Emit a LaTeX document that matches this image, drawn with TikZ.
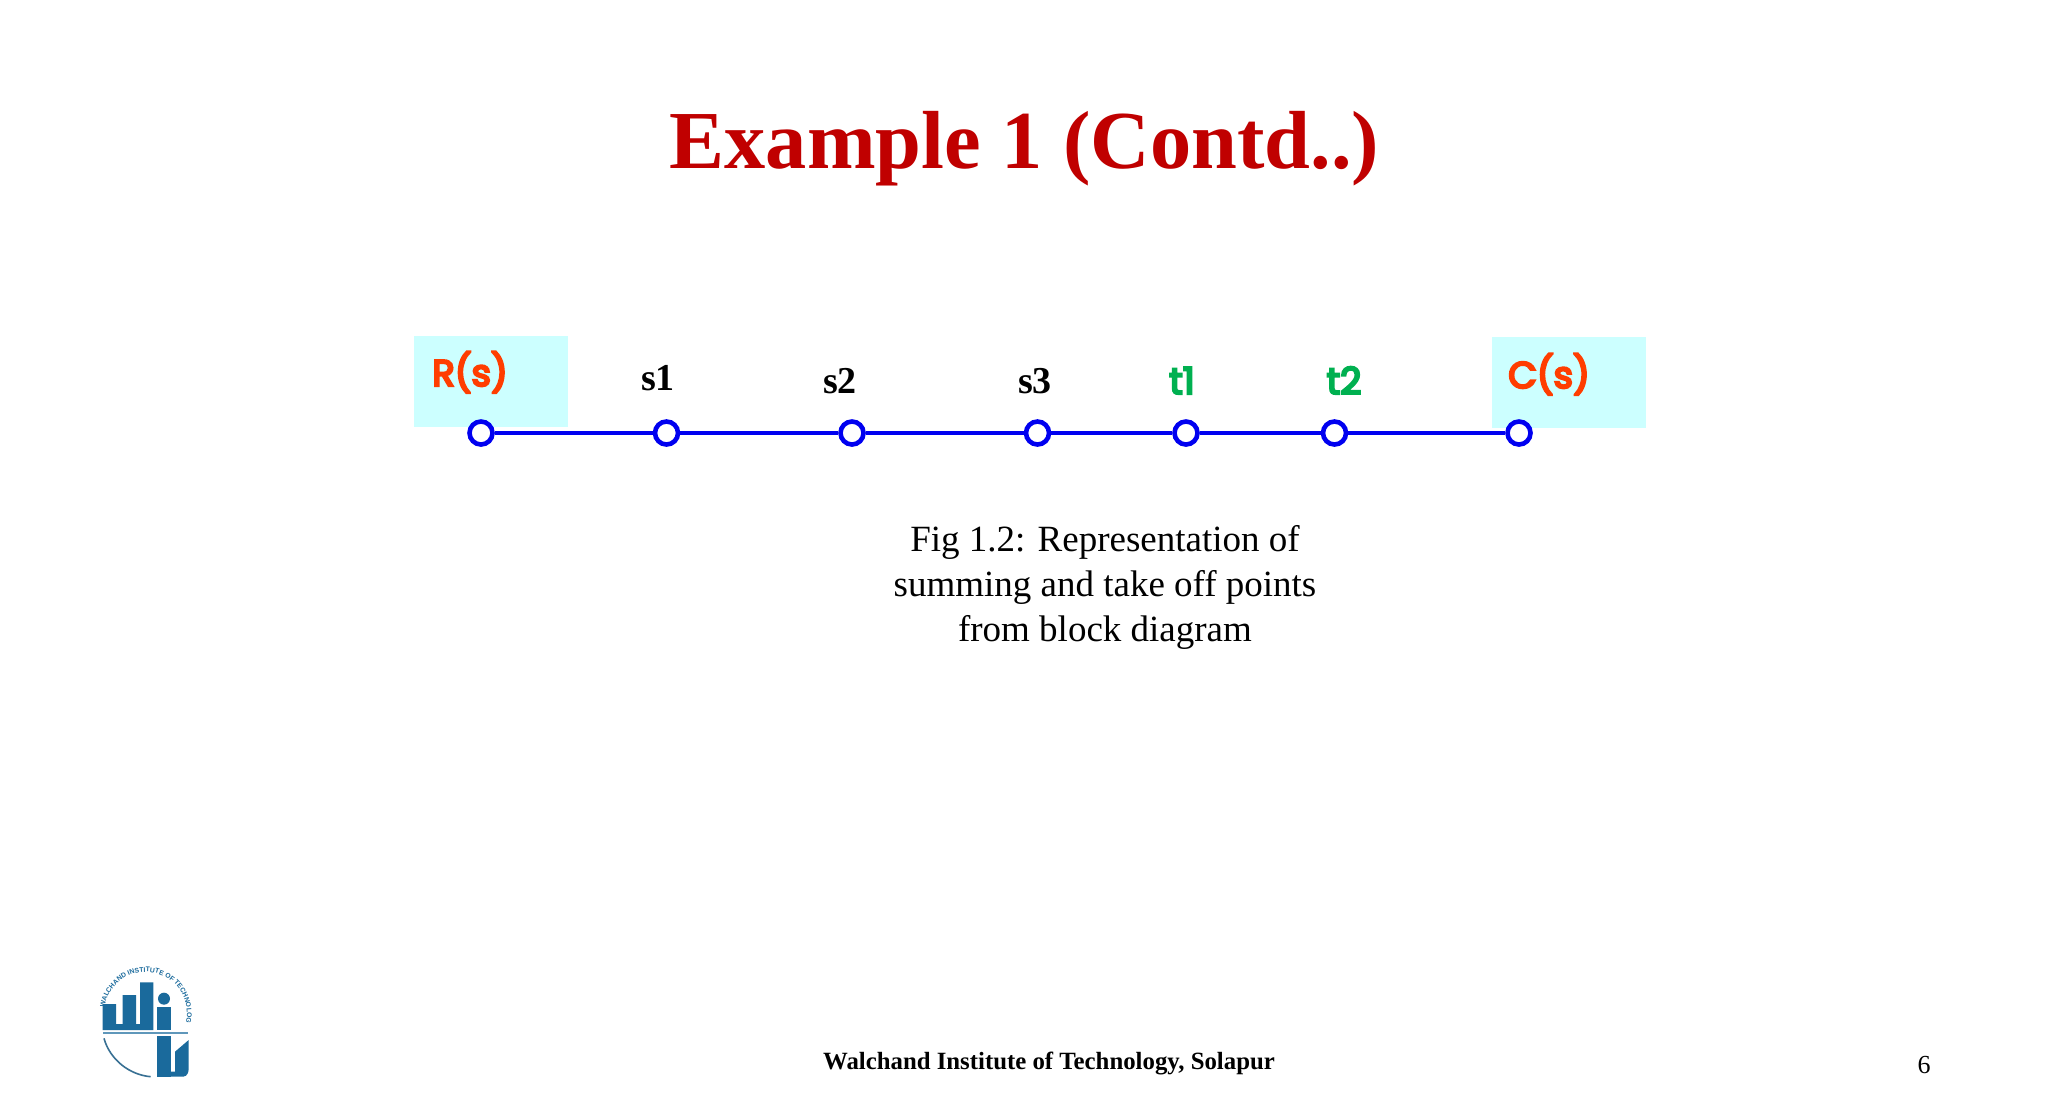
\documentclass[tikz,border=0pt]{standalone}
\usepackage{fontspec}
\setmainfont{Liberation Serif}
\newfontfamily\comicf[FakeBold=6]{Poppins}
\newfontfamily\logof{Liberation Sans}
\usetikzlibrary{decorations.text}
\definecolor{titlered}{HTML}{C00000}
\definecolor{boxcyan}{HTML}{CCFFFF}
\definecolor{linkblue}{HTML}{0000F0}
\definecolor{sigorange}{HTML}{FF3D00}
\definecolor{siggreen}{HTML}{00B050}
\definecolor{logoblue}{HTML}{1A6A9C}
\tikzset{
  px/.style={x=0.5pt,y=-0.5pt},
  dotnode/.style={circle,draw=linkblue,fill=white,line width=2.3pt,minimum size=11.5pt,inner sep=0pt},
  link/.style={draw=linkblue,line width=2.4pt},
  sigbox/.style={fill=boxcyan,minimum width=77pt,minimum height=45.5pt,inner sep=0pt},
  blk/.style={anchor=base,inner sep=0pt,font=\fontsize{19}{19}\selectfont\bfseries},
  comic/.style={anchor=base,inner sep=0pt,font=\fontsize{18.5}{18.5}\selectfont\comicf},
  lg/.style={fill=logoblue,draw=none}
}
\begin{document}
\begin{tikzpicture}[px]
\useasboundingbox[fill=white] (0,0) rectangle (2048,1115);
\node[anchor=base,inner sep=0pt,text=titlered,font=\fontsize{41.2}{41.2}\selectfont\bfseries] (title) at (1024.5,168) {Example 1 (Contd..)};
\node[sigbox] (rbox) at (491,381.5) {};
\node[sigbox] (cbox) at (1569,382) {};
\node[dotnode] (n1) at (481,433) {};
\node[dotnode] (n2) at (666.5,433) {};
\node[dotnode] (n3) at (852,433) {};
\node[dotnode] (n4) at (1037.5,433) {};
\node[dotnode] (n5) at (1186,433) {};
\node[dotnode] (n6) at (1334.5,433) {};
\node[dotnode] (n7) at (1519,433) {};
\draw[link] (n1) -- (n2);
\draw[link] (n2) -- (n3);
\draw[link] (n3) -- (n4);
\draw[link] (n4) -- (n5);
\draw[link] (n5) -- (n6);
\draw[link] (n6) -- (n7);
\node[comic,text=sigorange] (lr) at (470,386) {R(s)};
\node[comic,text=sigorange] (lc) at (1549,388) {C(s)};
\node[blk] (ls1) at (658,390) {s1};
\node[blk] (ls2) at (840,393) {s2};
\node[blk] (ls3) at (1035,393) {s3};
\node[comic,text=siggreen] (lt1) at (1182,394) {t1};
\node[comic,text=siggreen] (lt2) at (1344,394) {t2};
\node[anchor=base,inner sep=0pt,align=center,font=\fontsize{18.5}{22.3}\selectfont] (cap) at (1105,641) {Fig 1.2: Representation of\\summing and take off points\\from block diagram};
\node[anchor=base,inner sep=0pt,font=\fontsize{12.4}{12.4}\selectfont\bfseries] (foot) at (1049,1069) {Walchand Institute of Technology, Solapur};
\node[anchor=base,inner sep=0pt,font=\fontsize{13}{13}\selectfont] (pg) at (1924,1073) {6};
% logo
\begin{scope}[shift={(80,950)},x=0.16667pt,y=-0.16667pt]
\fill[lg] (68,162) -- (108,162) -- (108,222) -- (128,222) -- (128,135) -- (168,135) -- (168,222) -- (180,222) -- (180,97) -- (220,97) -- (220,240) -- (68,240) -- cycle;
\fill[lg] (232,170) rectangle (272,240);
\fill[lg] (252,146) circle (3pt);
\fill[logoblue!70!white] (68,245) rectangle (325,253);
\fill[lg] (232,258) rectangle (272,380);
\fill[lg] (272,380) -- (310,380) .. controls (322,378) and (326,368) .. (326,355) -- (326,270) -- (285,305) -- (285,365) -- (272,365) -- cycle;
\draw[draw=logoblue!70!gray,line width=0.8pt] (72,265) .. controls (90,330) and (150,375) .. (212,380);
\path[decorate,decoration={text along path,text align=center,text={|\fontsize{3.4}{4}\selectfont\logof\bfseries\color{logoblue}|WALCHAND INSTITUTE OF TECHNOLOGY}}]
  (77.2,157.9) .. controls (94.6,93) and (160.6,53.7) .. (225.9,69.4) .. controls (291.2,85.1) and (332.3,150.1) .. (318.3,215.8);
\end{scope}
\end{tikzpicture}
\end{document}
